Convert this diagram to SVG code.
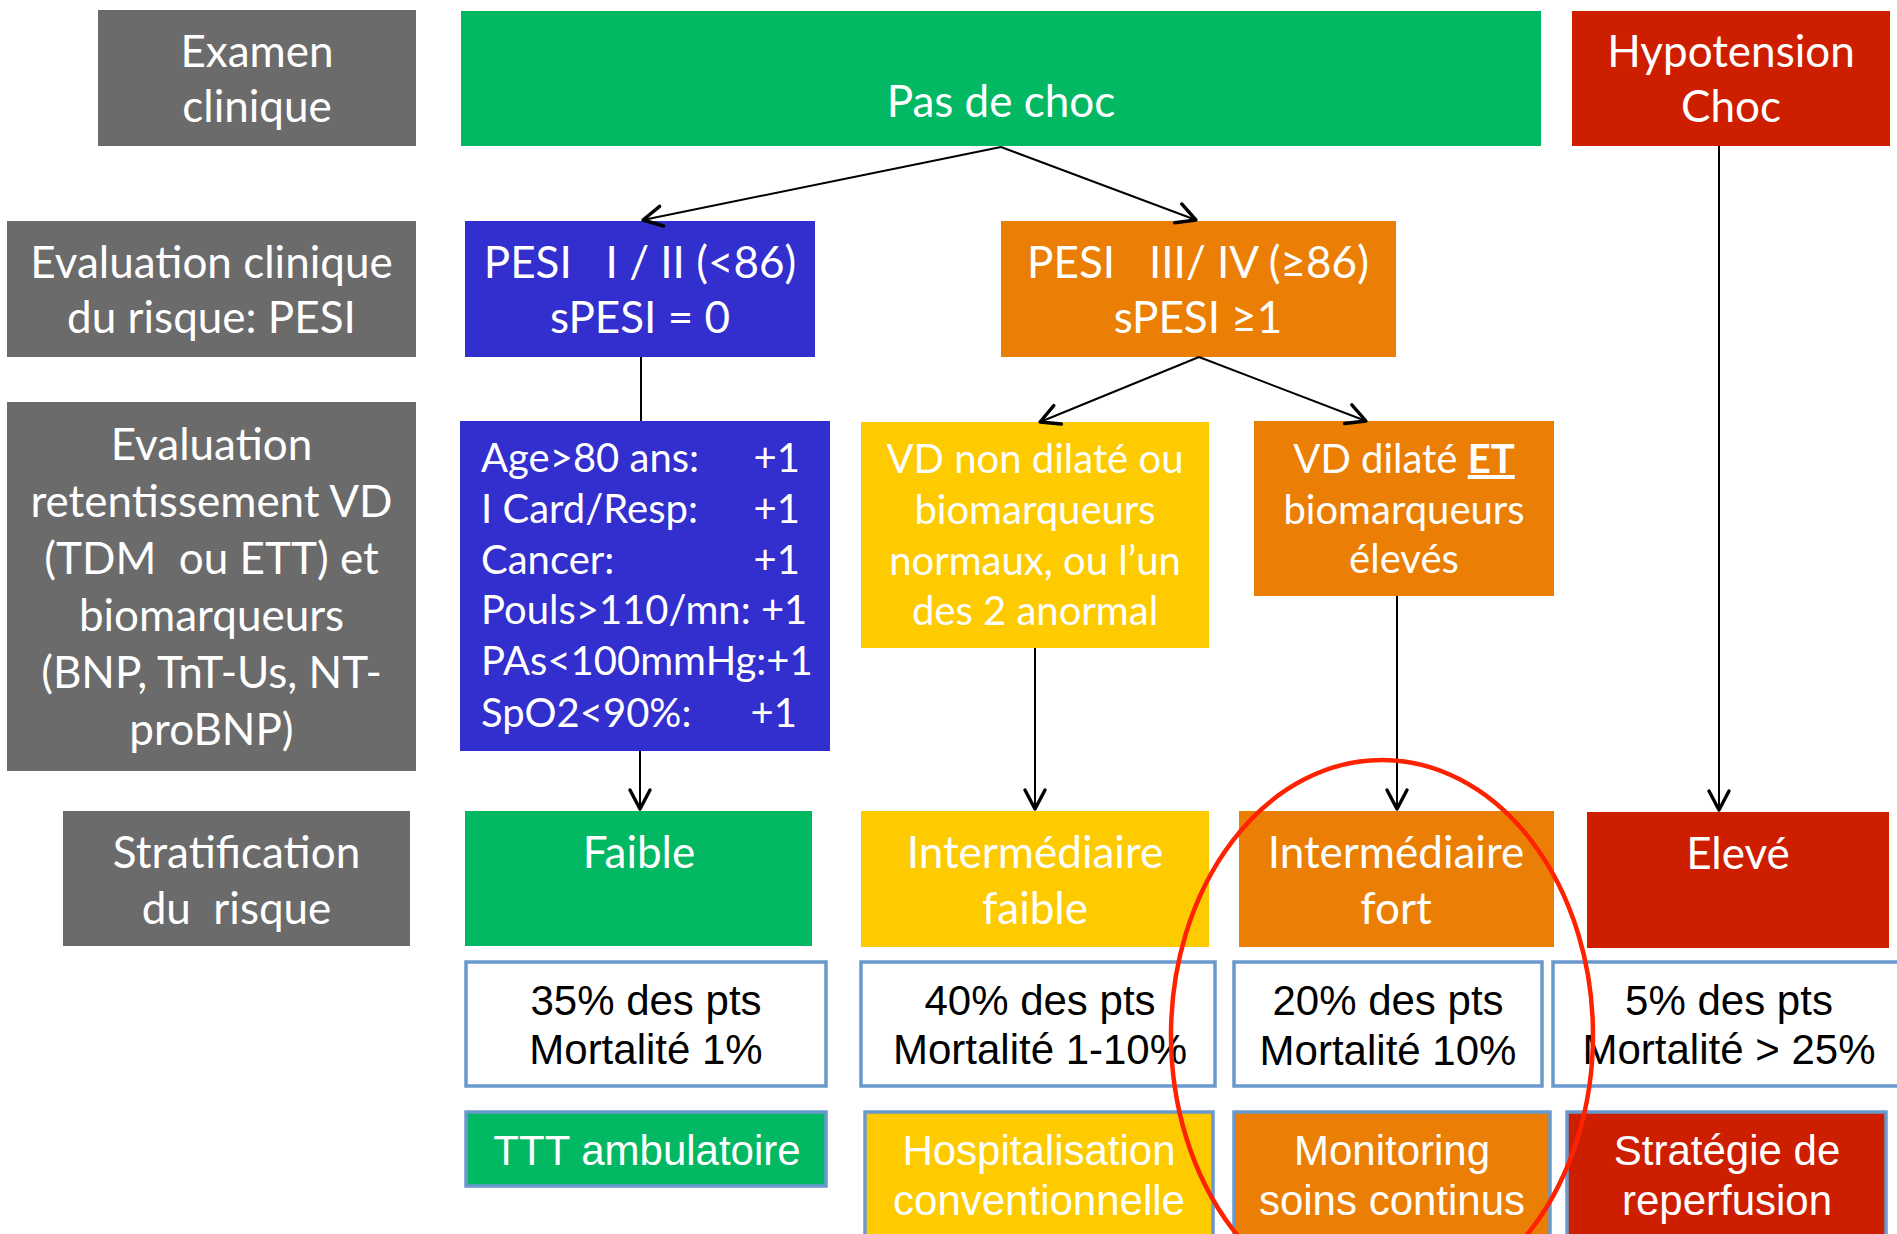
<svg xmlns="http://www.w3.org/2000/svg" width="1897" height="1234" viewBox="0 0 1897 1234">
<defs>
<style>
.gray{fill:#6B6B6B}
.green{fill:#02B863}
.blue{fill:#332ECE}
.orange{fill:#EB7F05}
.yellow{fill:#FECB00}
.red{fill:#CD1F00}
.wbox{fill:#FFFFFF;stroke:#6A99CD;stroke-width:3.5}
.abox{stroke:#6A99CD;stroke-width:3.5}
.t{font-family:Lato,"Open Sans","DejaVu Sans",sans-serif;font-size:44px;fill:#FFFFFF;text-anchor:middle;white-space:pre}
.ts{font-family:Lato,"Open Sans","DejaVu Sans",sans-serif;font-size:40px;fill:#FFFFFF;white-space:pre}
.tc{font-family:Lato,"Open Sans","DejaVu Sans",sans-serif;font-size:40px;fill:#FFFFFF;text-anchor:middle;white-space:pre}
.ta{font-family:"Liberation Sans",Arial,sans-serif;font-size:42px;fill:#000000;text-anchor:middle}
.taw{font-family:"Liberation Sans",Arial,sans-serif;font-size:42px;fill:#FFFFFF;text-anchor:middle}
.conn{stroke:#000000;stroke-width:2;fill:none}
</style>
<marker id="arr" markerUnits="userSpaceOnUse" markerWidth="26" markerHeight="26" refX="22" refY="13" orient="auto">
<path d="M3,3 L22,13 L3,23" fill="none" stroke="#000000" stroke-width="3.4" stroke-linecap="round" stroke-linejoin="round"/>
</marker>
</defs>

<g id="n_examen"><rect class="gray" x="98" y="10" width="318" height="136"/>
<text class="t" x="257" y="67">Examen</text><text class="t" x="257" y="122">clinique</text></g>

<g id="n_pas_de_choc"><rect class="green" x="461" y="11" width="1080" height="135"/>
<text class="t" x="1001" y="117">Pas de choc</text></g>

<g id="n_hypotension"><rect class="red" x="1572" y="11" width="318" height="135"/>
<text class="t" x="1731" y="67">Hypotension</text><text class="t" x="1731" y="122">Choc</text></g>

<g id="n_eval_pesi"><rect class="gray" x="7" y="221" width="409" height="136"/>
<text class="t" x="211.5" y="278">Evaluation clinique</text><text class="t" x="211.5" y="333">du risque: PESI</text></g>

<g id="n_pesi12"><rect class="blue" x="465" y="221" width="350" height="136"/>
<text class="t" x="640" y="278">PESI   I / II (&lt;86)</text><text class="t" x="640" y="333">sPESI = 0</text></g>

<g id="n_pesi34"><rect class="orange" x="1001" y="221" width="395" height="136"/>
<text class="t" x="1198" y="278">PESI   III/ IV (≥86)</text><text class="t" x="1198" y="333">sPESI ≥1</text></g>

<g id="n_eval_vd"><rect class="gray" x="7" y="402" width="409" height="369"/>
<text class="t" x="211.5" y="460">Evaluation</text>
<text class="t" x="211.5" y="517">retentissement VD</text>
<text class="t" x="211.5" y="574">(TDM  ou ETT) et</text>
<text class="t" x="211.5" y="631">biomarqueurs</text>
<text class="t" x="211.5" y="688">(BNP, TnT-Us, NT-</text>
<text class="t" x="211.5" y="745">proBNP)</text></g>

<g id="n_pesi_list"><rect class="blue" x="460" y="421" width="370" height="330"/>
<text class="ts" x="481" y="472">Age&gt;80 ans:</text><text class="ts" x="800" y="472" text-anchor="end">+1</text>
<text class="ts" x="481" y="523">I Card/Resp:</text><text class="ts" x="800" y="523" text-anchor="end">+1</text>
<text class="ts" x="481" y="574">Cancer:</text><text class="ts" x="800" y="574" text-anchor="end">+1</text>
<text class="ts" x="481" y="624">Pouls&gt;110/mn: +1</text>
<text class="ts" x="481" y="675">PAs&lt;100mmHg:+1</text>
<text class="ts" x="481" y="727">SpO2&lt;90%:</text><text class="ts" x="797" y="727" text-anchor="end">+1</text></g>

<g id="n_vd_non_dilate"><rect class="yellow" x="861" y="422" width="348" height="226"/>
<text class="tc" x="1035" y="473">VD non dilaté ou</text>
<text class="tc" x="1035" y="524">biomarqueurs</text>
<text class="tc" x="1035" y="575">normaux, ou l’un</text>
<text class="tc" x="1035" y="625">des 2 anormal</text></g>

<g id="n_vd_dilate"><rect class="orange" x="1254" y="421" width="300" height="175"/>
<text class="tc" x="1404" y="473">VD dilaté <tspan font-weight="bold" text-decoration="underline">ET</tspan></text>
<text class="tc" x="1404" y="524">biomarqueurs</text>
<text class="tc" x="1404" y="573">élevés</text></g>

<g id="n_stratification"><rect class="gray" x="63" y="811" width="347" height="135"/>
<text class="t" x="236.5" y="868">Stratification</text><text class="t" x="236.5" y="924">du  risque</text></g>

<g id="n_faible"><rect class="green" x="465" y="811" width="347" height="135"/>
<text class="t" x="639" y="868">Faible</text></g>

<g id="n_int_faible"><rect class="yellow" x="861" y="811" width="348" height="136"/>
<text class="t" x="1035" y="868">Intermédiaire</text><text class="t" x="1035" y="924">faible</text></g>

<g id="n_int_fort"><rect class="orange" x="1239" y="811" width="315" height="136"/>
<text class="t" x="1396" y="868">Intermédiaire</text><text class="t" x="1396" y="924">fort</text></g>

<g id="n_eleve"><rect class="red" x="1587" y="812" width="302" height="136"/>
<text class="t" x="1738" y="869">Elevé</text></g>

<g id="n_stat35"><rect class="wbox" x="466" y="962" width="360" height="124"/>
<text class="ta" x="646" y="1015">35% des pts</text><text class="ta" x="646" y="1064">Mortalité 1%</text></g>

<g id="n_stat40"><rect class="wbox" x="861" y="962" width="354" height="124"/>
<text class="ta" x="1040" y="1015">40% des pts</text><text class="ta" x="1040" y="1064">Mortalité 1-10%</text></g>

<g id="n_stat20"><rect class="wbox" x="1234" y="962" width="308" height="124"/>
<text class="ta" x="1388" y="1015">20% des pts</text><text class="ta" x="1388" y="1065">Mortalité 10%</text></g>

<g id="n_stat5"><rect class="wbox" x="1553" y="962" width="360" height="124"/>
<text class="ta" x="1729" y="1015">5% des pts</text><text class="ta" x="1729" y="1064">Mortalité &gt; 25%</text></g>

<g id="n_ttt"><rect class="green abox" x="466" y="1112" width="360" height="74"/>
<text class="taw" x="647" y="1165">TTT ambulatoire</text></g>

<g id="n_hosp"><rect class="yellow abox" x="865" y="1112" width="348" height="140"/>
<text class="taw" x="1039" y="1165">Hospitalisation</text><text class="taw" x="1039" y="1215">conventionnelle</text></g>

<g id="n_monitoring"><rect class="orange abox" x="1234" y="1112" width="316" height="140"/>
<text class="taw" x="1392" y="1165">Monitoring</text><text class="taw" x="1392" y="1215">soins continus</text></g>

<g id="n_reperfusion"><rect class="red abox" x="1567" y="1112" width="319" height="140"/>
<text class="taw" x="1727" y="1165">Stratégie de</text><text class="taw" x="1727" y="1215">reperfusion</text></g>

<g id="connectors">
<line class="conn" x1="1001" y1="147" x2="643" y2="220" marker-end="url(#arr)"/>
<line class="conn" x1="1001" y1="147" x2="1196" y2="220" marker-end="url(#arr)"/>
<line class="conn" x1="1199" y1="357" x2="1040" y2="422" marker-end="url(#arr)"/>
<line class="conn" x1="1199" y1="357" x2="1366" y2="421" marker-end="url(#arr)"/>
<line class="conn" x1="641" y1="357" x2="641" y2="421"/>
<line class="conn" x1="640" y1="751" x2="640" y2="809" marker-end="url(#arr)"/>
<line class="conn" x1="1035" y1="648" x2="1035" y2="809" marker-end="url(#arr)"/>
<line class="conn" x1="1397" y1="596" x2="1397" y2="809" marker-end="url(#arr)"/>
<line class="conn" x1="1719" y1="146" x2="1719" y2="810" marker-end="url(#arr)"/>
</g>

<ellipse id="highlight" cx="1382" cy="1035" rx="211" ry="275" fill="none" stroke="#FF2200" stroke-width="4.5"/>
</svg>
